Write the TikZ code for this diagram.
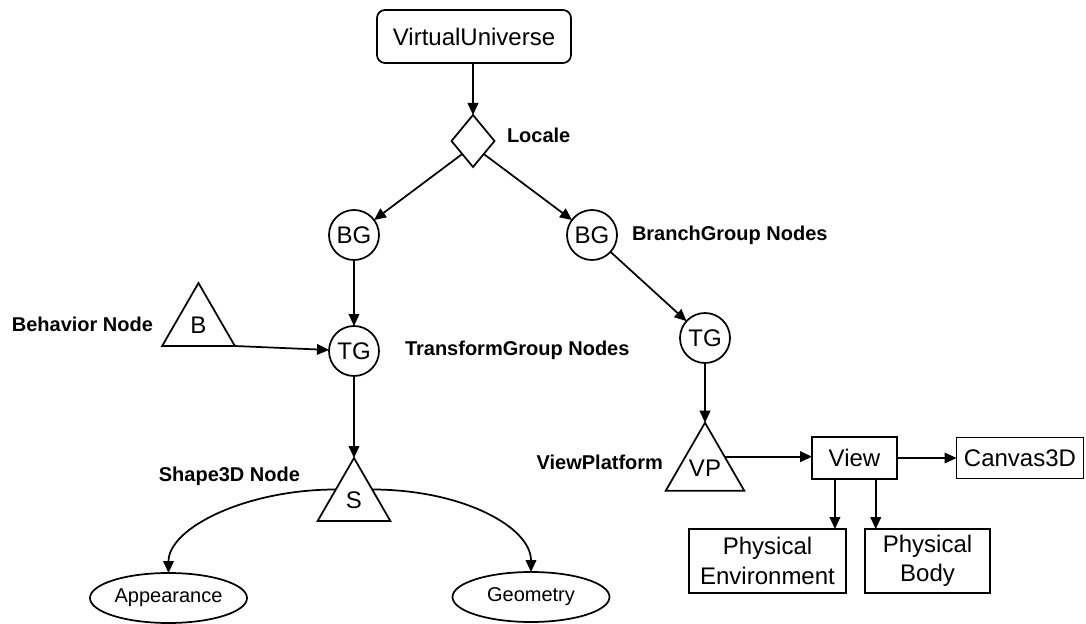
\documentclass[tikz,border=0pt]{standalone}
\usepackage{fontspec}
\setmainfont{Liberation Sans}
\usetikzlibrary{shapes.geometric,arrows.meta,calc}
\begin{document}
\begin{tikzpicture}[x=0.75pt,y=-0.75pt,
  every node/.style={inner sep=0pt,outer sep=0pt},
  ln/.style={line width=1.3pt},
  arr/.style={ln,-{Triangle[length=9pt,width=8pt]}},
  txt/.style={font=\fontsize{18}{22}\selectfont},
  lbl/.style={font=\bfseries\fontsize{15}{17}\selectfont},
  box/.style={draw,ln,rectangle,txt,align=center},
  grp/.style={draw,ln,circle,txt,minimum size=37.5pt},
  tri/.style={draw,ln,regular polygon,regular polygon sides=3,txt,minimum size=63pt},
  oval/.style={draw,ln,ellipse,font=\fontsize{15}{17}\selectfont,minimum width=117.75pt,minimum height=37.5pt}]
\useasboundingbox (0,0) rectangle (1086,624);

\node[box,rounded corners=6pt,minimum width=145.5pt,minimum height=39.75pt] (VU) at (474,36.5) {VirtualUniverse};
\node[draw,ln,diamond,minimum width=32.25pt,minimum height=39pt] (L) at (473,141) {};
\node[lbl,anchor=west] (Llbl) at (507,135) {Locale};

\node[grp] (BG1) at (354,235) {BG};
\node[grp] (BG2) at (592,235) {BG};
\node[lbl,anchor=west] (BGlbl) at (632,235) {BranchGroup Nodes};

\node[grp] (TG1) at (354,351) {TG};
\node[grp] (TG2) at (705,338) {TG};
\node[lbl,anchor=west] (TGlbl) at (405,350) {TransformGroup Nodes};

\node[tri] (B) at (198.5,325) {B};
\node[lbl,anchor=east] (Blbl) at (153,324) {Behavior Node};

\node[tri] (S) at (354,500) {S};
\node[lbl,anchor=east] (Slbl) at (300,476) {Shape3D Node};

\node[tri] (VP) at (705,468) {VP};
\node[lbl,anchor=east] (VPlbl) at (663,462) {ViewPlatform};

\node[box,minimum width=63.75pt,minimum height=31.5pt] (View) at (854.5,458) {View};
\node[box,minimum width=95.25pt,minimum height=30.75pt] (C3D) at (1020,458) {Canvas3D};
\node[box,minimum width=117.75pt,minimum height=48pt] (PE) at (767.5,561) {Physical\\Environment};
\node[box,minimum width=93.75pt,minimum height=48pt] (PB) at (927.5,561) {Physical\\Body};

\node[oval] (App) at (168.5,598) {Appearance};
\node[oval] (Geo) at (531,597) {Geometry};

% connectors
\draw[arr] (VU.south -| L.north) -- (L.north);
\draw[arr] (L.south west) -- (BG1);
\draw[arr] (L.south east) -- (BG2);
\draw[arr] (BG1) -- (TG1);
\draw[arr] (BG2) -- (TG2);
\draw[arr] (B.corner 3) -- (TG1);
\draw[arr] (TG1) -- (S.corner 1);
\draw[arr] (TG2) -- (VP.corner 1);
\coordinate (vpr) at ($(VP.corner 1)!0.5!(VP.corner 3)$);
\draw[arr] (vpr) -- (vpr -| View.west);
\draw[arr] (View) -- (C3D);
\coordinate (v1) at ($(View.south west)!0.27!(View.south east)$);
\coordinate (v2) at ($(View.south west)!0.75!(View.south east)$);
\draw[arr] (v1) -- (v1 |- PE.north);
\draw[arr] (v2) -- (v2 |- PB.north);
\coordinate (sl) at ($(S.corner 1)!0.5!(S.corner 2)$);
\coordinate (sr) at ($(S.corner 1)!0.5!(S.corner 3)$);
\draw[arr] (sl) .. controls +(-90,0) and +(0,-45) .. (App.north);
\draw[arr] (sr) .. controls +(90,0) and +(0,-45) .. (Geo.north);
\end{tikzpicture}
\end{document}
